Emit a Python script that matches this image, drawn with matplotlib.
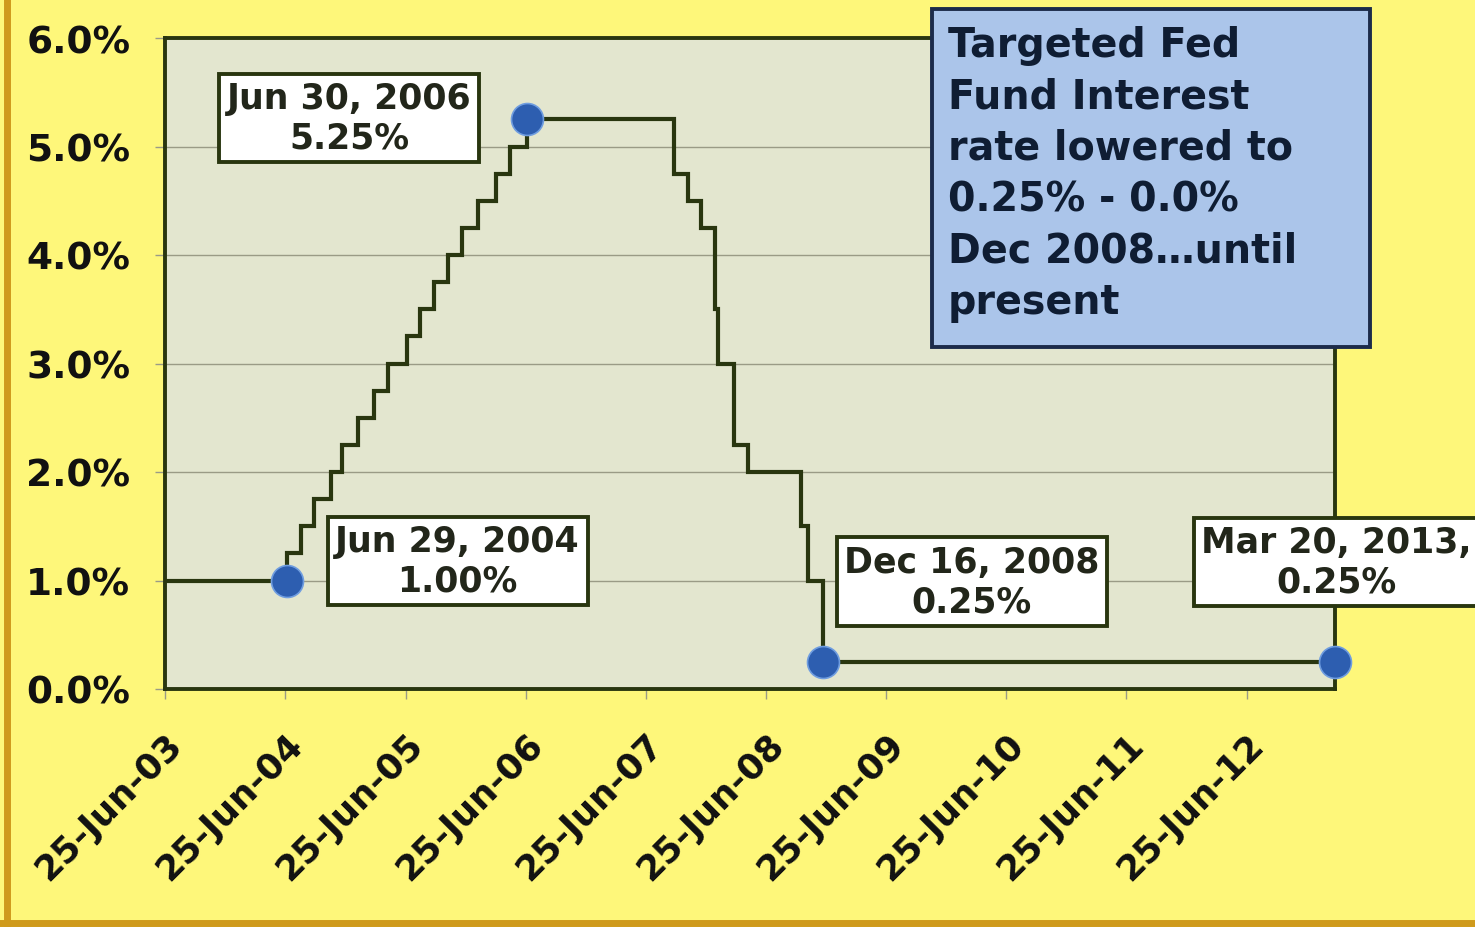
import matplotlib
matplotlib.use("Agg")
import matplotlib.pyplot as plt
import matplotlib.dates as mdates
from matplotlib.patches import Rectangle
from matplotlib.lines import Line2D
from matplotlib.ticker import FuncFormatter
import datetime as dt

# Target federal funds rate changes (date, rate in %)
change_dates = [
    "2003-06-25", "2004-06-30", "2004-08-10", "2004-09-21", "2004-11-10",
    "2004-12-14", "2005-02-02", "2005-03-22", "2005-05-03", "2005-06-30",
    "2005-08-09", "2005-09-20", "2005-11-01", "2005-12-13", "2006-01-31",
    "2006-03-28", "2006-05-10", "2006-06-29", "2007-09-18", "2007-10-31",
    "2007-12-11", "2008-01-22", "2008-01-30", "2008-03-18", "2008-04-30",
    "2008-10-08", "2008-10-29", "2008-12-16", "2013-03-20",
]
rates = [
    1.00, 1.25, 1.50, 1.75, 2.00,
    2.25, 2.50, 2.75, 3.00, 3.25,
    3.50, 3.75, 4.00, 4.25, 4.50,
    4.75, 5.00, 5.25, 4.75, 4.50,
    4.25, 3.50, 3.00, 2.25, 2.00,
    1.50, 1.00, 0.25, 0.25,
]

# Highlighted points and their labels
marker_dates = ["2004-06-29", "2006-06-30", "2008-12-16", "2013-03-20"]
marker_rates = [1.00, 5.25, 0.25, 0.25]
marker_labels = ["Jun 29, 2004\n1.00%", "Jun 30, 2006\n5.25%",
                 "Dec 16, 2008\n0.25%", "Mar 20, 2013,\n0.25%"]
label_offsets = [(123, 14), (-128, 1), (107, 58), (1, 72)]  # points

tick_dates = ["2003-06-25", "2004-06-25", "2005-06-25", "2006-06-25",
              "2007-06-25", "2008-06-25", "2009-06-25", "2010-06-25",
              "2011-06-25", "2012-06-25"]
y_ticks = [0, 1, 2, 3, 4, 5, 6]

note_text = ("Targeted Fed\nFund Interest\nrate lowered to\n"
             "0.25% - 0.0%\nDec 2008\u2026until\npresent")

to_date = lambda s: dt.datetime.strptime(s, "%Y-%m-%d")

YELLOW = "#fef77a"
PLOT_BG = "#e3e6cf"
OLIVE = "#29360f"

fig = plt.figure(figsize=(14.75, 9.28), dpi=100, facecolor=YELLOW)
ax = fig.add_axes([165 / 1475, 1 - 690 / 928, 1170 / 1475, 651 / 928])
ax.set_facecolor(PLOT_BG)

ax.plot([to_date(d) for d in change_dates], rates, drawstyle="steps-post",
        color=OLIVE, lw=3.0, zorder=3, solid_joinstyle="miter")

mx = [to_date(d) for d in marker_dates]
ax.plot(mx, marker_rates, "o", ms=23, mfc="#2d5eb0", mec="#6f9de0",
        mew=1.2, zorder=5, clip_on=False)

for x, y, lab, off in zip(mx, marker_rates, marker_labels, label_offsets):
    ax.annotate(lab, (x, y), xytext=off, textcoords="offset points",
                ha="center", va="center", fontsize=25, fontweight="bold",
                color="#22261a", linespacing=1.2, zorder=6,
                annotation_clip=False,
                bbox=dict(boxstyle="square,pad=0.22", fc="white",
                          ec=OLIVE, lw=2.8))

ax.set_xlim(to_date("2003-06-25"), to_date("2013-03-20"))
ax.set_ylim(0, 6)
ax.set_xticks([to_date(d) for d in tick_dates])
ax.xaxis.set_major_formatter(mdates.DateFormatter("%d-%b-%y"))
ax.set_yticks(y_ticks)
ax.yaxis.set_major_formatter(FuncFormatter(lambda v, p: f"{v:.1f}%"))

ax.grid(axis="y", color="#9a9b86", lw=1.0, zorder=1)
ax.set_axisbelow(True)
for sp in ax.spines.values():
    sp.set_color(OLIVE)
    sp.set_linewidth(2.8)

ax.tick_params(axis="y", length=7, width=1, color="#9a9b86", pad=18,
               labelsize=27, labelcolor="#111111")
ax.tick_params(axis="x", length=7, width=1, color="#9a9b86", pad=20,
               labelsize=25.5, labelcolor="#111111")
for lab in ax.get_yticklabels():
    lab.set_fontweight("bold")
for lab in ax.get_xticklabels():
    lab.set_fontweight("bold")
    lab.set_rotation(45)
    lab.set_ha("right")
    lab.set_va("top")
    lab.set_rotation_mode("anchor")

# Note box in the upper right
fig.patches.append(Rectangle((932 / 1475, 1 - 348 / 928), 438 / 1475,
                             338 / 928, transform=fig.transFigure,
                             fc="#abc5ea", ec="#1c2b4a", lw=2.8, zorder=10))
fig.text(948 / 1475, 1 - 26 / 928, note_text, ha="left", va="top",
         fontsize=28.5, fontweight="bold", color="#0f1d33",
         linespacing=1.37, zorder=11)

# Gold frame edges
fig.add_artist(Line2D([7 / 1475, 7 / 1475], [0, 1], transform=fig.transFigure,
                      color="#cf9a1c", lw=5))
fig.add_artist(Line2D([0, 1], [4 / 928, 4 / 928], transform=fig.transFigure,
                      color="#cf9a1c", lw=5))

fig.savefig("out.png", dpi=100, facecolor=YELLOW)
